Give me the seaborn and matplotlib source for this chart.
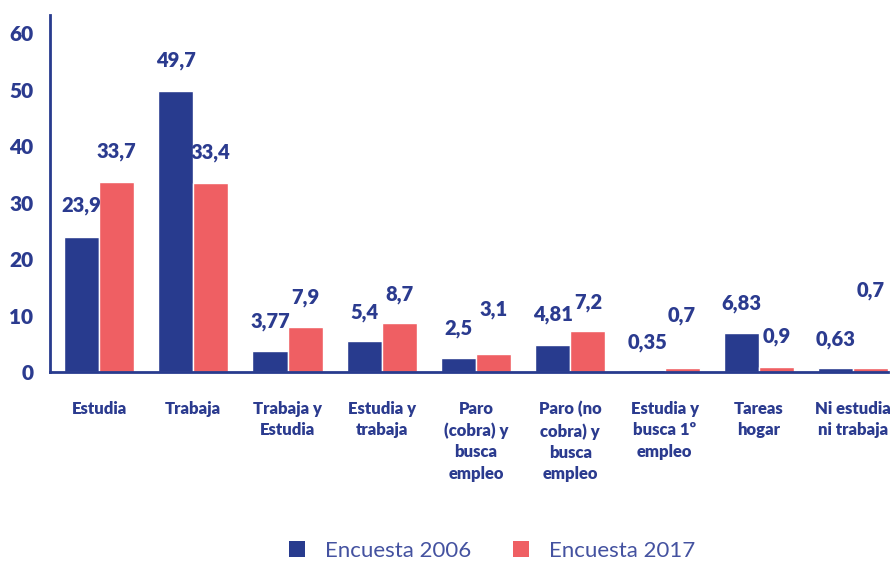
import matplotlib
matplotlib.use("Agg")
import matplotlib.pyplot as plt
import seaborn as sns
import pandas as pd
from matplotlib.patches import Patch

# ---- data ----
categories = ["Estudia", "Trabaja", "Trabaja y Estudia", "Estudia y trabaja",
              "Paro (cobra) y busca empleo", "Paro (no cobra) y busca empleo",
              "Estudia y busca 1º empleo", "Tareas hogar", "Ni estudia ni trabaja"]
tick_labels = ["Estudia", "Trabaja", "Trabaja y\nEstudia", "Estudia y\ntrabaja",
               "Paro\n(cobra) y\nbusca\nempleo", "Paro (no\ncobra) y\nbusca\nempleo",
               "Estudia y\nbusca 1º\nempleo", "Tareas\nhogar", "Ni estudia\nni trabaja"]
series = ["Encuesta 2006", "Encuesta 2017"]
values_2006 = [23.9, 49.7, 3.77, 5.4, 2.5, 4.81, 0.35, 6.83, 0.63]
values_2017 = [33.7, 33.4, 7.9, 8.7, 3.1, 7.2, 0.7, 0.9, 0.7]
labels_2006 = ["23,9", "49,7", "3,77", "5,4", "2,5", "4,81", "0,35", "6,83", "0,63"]
labels_2017 = ["33,7", "33,4", "7,9", "8,7", "3,1", "7,2", "0,7", "0,9", "0,7"]
y_ticks = [0, 10, 20, 30, 40, 50, 60]

# ---- style ----
BLUE = "#283b8e"
RED = "#ef5f63"
TXT = "#2b3b8f"
LEG_TXT = "#4452a0"
# vertical offsets (pixels) of value labels above bar tops
off_2006 = [31, 31, 29, 29, 29, 30, 28, 30, 29]
off_2017 = [30, 31, 30, 28, 45, 29, 53, 30, 78]

df = pd.DataFrame({
    "cat": categories * 2,
    "val": values_2006 + values_2017,
    "serie": [series[0]] * len(categories) + [series[1]] * len(categories),
})

sns.set_style("white")
plt.rcParams["font.family"] = ["Lato", "DejaVu Sans"]

fig = plt.figure(figsize=(8.9, 5.61), dpi=100)
ax = fig.add_axes([50 / 890, 1 - 372 / 561, 838 / 890, (372 - 15) / 561])

sns.barplot(data=df, x="cat", y="val", hue="serie", order=categories,
            hue_order=series, palette=[BLUE, RED], saturation=1,
            width=0.745, gap=0, ax=ax, legend=False)

ax.set_xlim(-0.52, 8.37)
ax.set_ylim(0, 63.2)
ax.set_yticks(y_ticks)
ax.set_yticklabels([str(t) for t in y_ticks], fontsize=15, fontweight="heavy", color=TXT)
ax.set_xticks(range(len(categories)))
ax.set_xticklabels(tick_labels, fontsize=12, fontweight="heavy", color=TXT,
                   linespacing=1.4, va="top")
ax.tick_params(axis="y", length=0, pad=12)
ax.tick_params(axis="x", length=0, pad=21)
ax.set_xlabel("")
ax.set_ylabel("")
for s in ["top", "right"]:
    ax.spines[s].set_visible(False)
for s in ["left", "bottom"]:
    ax.spines[s].set_color(BLUE)
    ax.spines[s].set_linewidth(2)

for cont, labs, offs in zip(ax.containers, [labels_2006, labels_2017], [off_2006, off_2017]):
    for bar, lab, off in zip(cont, labs, offs):
        ax.annotate(lab, (bar.get_x() + bar.get_width() / 2, bar.get_height()),
                    xytext=(0, off * 0.72), textcoords="offset points",
                    ha="center", va="center", fontsize=14.5, fontweight="heavy",
                    color=TXT)

handles = [Patch(facecolor=BLUE, edgecolor="none"), Patch(facecolor=RED, edgecolor="none")]
fig.legend(handles, series, loc="center", bbox_to_anchor=(492 / 890, 1 - 551 / 561),
           ncol=2, frameon=False, fontsize=16, labelcolor=LEG_TXT,
           handlelength=0.72, handleheight=0.72, handletextpad=0.9, columnspacing=1.9)

fig.savefig("out.png", dpi=100)
